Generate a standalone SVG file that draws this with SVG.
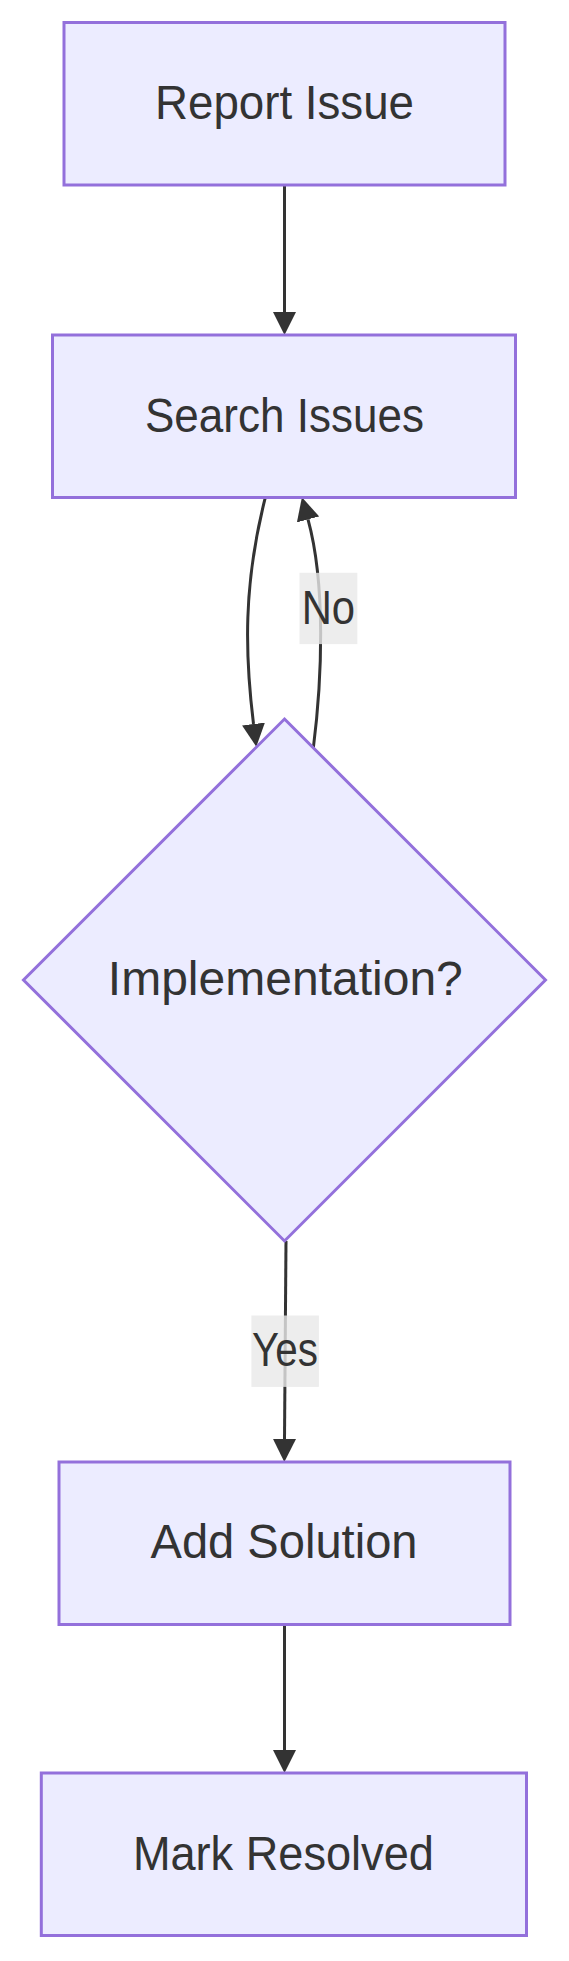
<svg xmlns="http://www.w3.org/2000/svg" width="569" height="1961" viewBox="0 0 569 1961">
<style>
.node rect,.node polygon{fill:#ECECFF;stroke:#9370DB;stroke-width:3}
.lbl{font-family:"trebuchet ms","Liberation Sans",Arial,sans-serif;font-size:48px;fill:#333;text-anchor:middle}
.edge{fill:none;stroke:#333;stroke-width:3}
.elbg{fill:#e8e8e8;fill-opacity:0.8}
</style>
<defs>
<marker id="arrow" viewBox="0 0 10 10" refX="0" refY="5" markerUnits="userSpaceOnUse" markerWidth="23" markerHeight="23" orient="auto">
<path d="M0,0 L10,5 L0,10 z" fill="#333"/>
</marker>
</defs>
<rect width="569" height="1961" fill="#fff"/>
<g id="connectors">
<path class="edge" d="M284.5,185 L284.5,312" marker-end="url(#arrow)"/>
<path class="edge" d="M265.3,497.7 C243,585 245,655 253.5,724" marker-end="url(#arrow)"/>
<path class="edge" d="M313.3,748.4 C322,680 326,585 308,519.4" marker-end="url(#arrow)"/>
<path class="edge" d="M286,1241 L284.5,1439" marker-end="url(#arrow)"/>
<path class="edge" d="M284.5,1624.5 L284.5,1750" marker-end="url(#arrow)"/>
</g>
<g id="edge-label-no">
<rect class="elbg" x="299.5" y="572.8" width="57.8" height="71.3"/>
<text class="lbl" x="328.4" y="623.5" textLength="53.4" lengthAdjust="spacingAndGlyphs">No</text>
</g>
<g id="edge-label-yes">
<rect class="elbg" x="251.4" y="1315.5" width="67.5" height="71.4"/>
<text class="lbl" x="285.1" y="1366" textLength="66" lengthAdjust="spacingAndGlyphs">Yes</text>
</g>
<g id="node-report" class="node">
<rect x="64" y="22.5" width="441" height="162.5"/>
<text class="lbl" x="284.5" y="119" textLength="259" lengthAdjust="spacingAndGlyphs">Report Issue</text>
</g>
<g id="node-search" class="node">
<rect x="52.5" y="335" width="463" height="162.5"/>
<text class="lbl" x="284.5" y="431.5" textLength="279" lengthAdjust="spacingAndGlyphs">Search Issues</text>
</g>
<g id="node-impl" class="node">
<polygon points="284.5,719 545.5,980 284.5,1241 23.5,980"/>
<text class="lbl" x="285.3" y="995" textLength="355" lengthAdjust="spacingAndGlyphs">Implementation?</text>
</g>
<g id="node-add" class="node">
<rect x="59" y="1462" width="451" height="162.5"/>
<text class="lbl" x="284" y="1558" textLength="267" lengthAdjust="spacingAndGlyphs">Add Solution</text>
</g>
<g id="node-mark" class="node">
<rect x="41.3" y="1773" width="485.2" height="162.5"/>
<text class="lbl" x="283.4" y="1869.5" textLength="301" lengthAdjust="spacingAndGlyphs">Mark Resolved</text>
</g>
</svg>
